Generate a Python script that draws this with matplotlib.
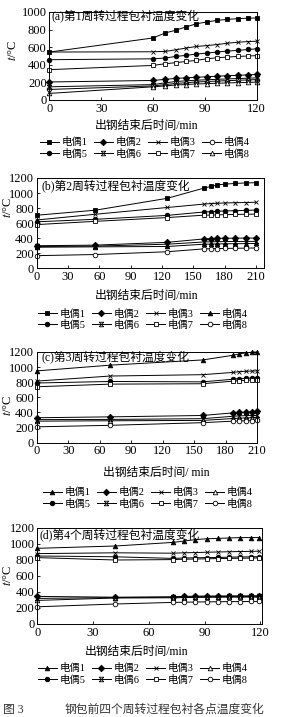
import matplotlib
matplotlib.use('Agg')
import matplotlib.pyplot as plt
from matplotlib.path import Path

plt.rcParams['font.family'] = ['Liberation Serif', 'Noto Sans CJK SC']
plt.rcParams['mathtext.fontset'] = 'stix'

# ---- data (temperature in degC, time in min) ----
time_a = [0, 60, 67, 73, 79, 85, 91, 97, 103, 109, 115, 120]
temp_a = [
    [545, 705, 762, 792, 830, 866, 886, 905, 916, 924, 930, 932],  # 1
    [205, 222, 235, 245, 252, 258, 264, 270, 276, 280, 286, 290],  # 2
    [545, 548, 552, 570, 590, 608, 618, 630, 645, 656, 664, 668],  # 3
    [120, 160, 175, 188, 196, 205, 210, 215, 220, 224, 228, 232],  # 4
    [458, 468, 477, 495, 507, 522, 533, 545, 556, 563, 574, 582],  # 5
    [150, 175, 195, 210, 218, 225, 230, 235, 240, 244, 248, 252],  # 6
    [345, 393, 412, 424, 438, 450, 468, 480, 488, 495, 500, 504],  # 7
    [75, 150, 160, 170, 176, 182, 186, 190, 194, 197, 200, 203],   # 8
]

time_b = [0, 56, 125, 160, 167, 173, 180, 190, 200, 210]
temp_b = [
    [705, 772, 930, 1065, 1088, 1108, 1118, 1128, 1134, 1138],
    [300, 308, 345, 390, 395, 398, 400, 400, 402, 402],
    [642, 718, 808, 853, 860, 864, 868, 872, 874, 878],
    [280, 285, 290, 320, 322, 324, 326, 327, 328, 330],
    [618, 651, 703, 748, 753, 758, 762, 766, 770, 774],
    [290, 295, 320, 350, 352, 354, 355, 356, 357, 358],
    [581, 624, 674, 706, 708, 710, 713, 716, 718, 720],
    [168, 183, 220, 258, 260, 262, 264, 266, 268, 270],
]

time_c = [0, 70, 158, 187, 193, 199, 205, 210]
temp_c = [
    [950, 1026, 1095, 1157, 1175, 1188, 1198, 1200],
    [330, 342, 360, 395, 400, 405, 410, 415],
    [815, 882, 900, 930, 940, 945, 948, 950],
    [285, 290, 295, 320, 325, 328, 330, 330],
    [790, 810, 805, 840, 848, 852, 856, 860],
    [305, 308, 318, 350, 355, 358, 360, 360],
    [740, 775, 780, 815, 820, 825, 830, 835],
    [210, 230, 265, 285, 288, 290, 292, 295],
]

time_d = [0, 42, 73, 79, 85, 91, 97, 103, 109, 115, 119]
temp_d = [
    [946, 975, 1020, 1037, 1055, 1065, 1070, 1075, 1080, 1080, 1080],
    [345, 335, 340, 345, 348, 350, 350, 352, 352, 352, 352],
    [880, 890, 885, 890, 893, 897, 900, 903, 906, 908, 910],
    [295, 325, 328, 330, 332, 334, 335, 336, 336, 337, 337],
    [850, 840, 820, 825, 828, 830, 832, 835, 838, 840, 842],
    [320, 330, 335, 338, 340, 342, 342, 344, 344, 345, 345],
    [830, 800, 805, 810, 812, 815, 818, 820, 822, 824, 826],
    [215, 250, 270, 272, 275, 277, 278, 280, 280, 282, 282],
]

labels = ['电偶%d' % i for i in range(1, 9)]
titles = ['(a)第1周转过程包衬温度变化', '(b)第2周转过程包衬温度变化',
          '(c)第3周转过程包衬温度变化', '(d)第4个周转过程包衬温度变化']
xlabels = ['出钢结束后时间/min', '出钢结束后时间/min',
           '出钢结束后时间/ min', '出钢结束后时间/min']

# x with bars top and bottom (thermocouple 6)
M, L = Path.MOVETO, Path.LINETO
star6 = Path([(-1, -1), (1, 1), (-1, 1), (1, -1), (-1, 1), (1, 1), (-1, -1), (1, -1)],
             [M, L, M, L, M, L, M, L])

# (marker, filled) per thermocouple for each panel
markers_a = [('s', 1), ('D', 1), ('x', 0), ('o', 0), ('o', 1), (star6, 0), ('s', 0), ('^', 0)]
markers_b = [('s', 1), ('D', 1), ('x', 0), ('^', 1), ('o', 1), (star6, 0), ('s', 0), ('o', 0)]
markers_c = [('^', 1), ('D', 1), ('x', 0), ('^', 0), ('o', 1), (star6, 0), ('s', 0), ('o', 0)]
markers_d = markers_c

W, H = 289, 717
fig = plt.figure(figsize=(W / 100, H / 100), dpi=100)


def fx(x):
    return x / W


def fy(y):
    return 1 - y / H


panels = [
    # data, markers, box (l, r, t, b) px, xlim, ylim, xtick max
    (time_a, temp_a, markers_a, (49.5, 256.7, 12, 100), 120, 1000, 120),
    (time_b, temp_b, markers_b, (36.7, 264, 178, 268.3), 217.7, 1200, 210),
    (time_c, temp_c, markers_c, (36.7, 257.3, 352, 442.7), 210, 1200, 210),
    (time_d, temp_d, markers_d, (37.3, 262.3, 528, 624), 121, 1200, 120),
]
# text positions in px
title_pos = [(51, 16), (41, 186), (41, 357), (39, 535)]
ylab_pos = [(13, 50), (8, 207), (8, 405), (8, 575)]
xlab_pos = [(147, 126), (147, 296), (156, 473), (137, 652)]
leg_pos = [(145, 148), (143, 319.5), (148, 498), (143, 674)]

for k, (t, temps, marks, box, xmax, ymax, xtmax) in enumerate(panels):
    l, r, tp, b = box
    ax = fig.add_axes([fx(l), fy(b), (r - l) / W, (b - tp) / H])
    lines = []
    for i in range(8):
        mk, filled = marks[i]
        ln, = ax.plot(t, temps[i], color='black', lw=0.7, marker=mk, ms=3.3,
                      mew=0.6, mfc='black' if filled else 'white',
                      mec='black', label=labels[i], clip_on=False)
        lines.append(ln)
    ax.set_xlim(0, xmax)
    ax.set_ylim(0, ymax)
    ax.set_xticks(range(0, xtmax + 1, 30))
    ax.set_yticks(range(0, ymax + 1, 200))
    ax.tick_params(direction='in', length=2, width=0.6, labelsize=9, pad=2)
    for sp in ax.spines.values():
        sp.set_linewidth(0.7)

    fig.text(fx(title_pos[k][0]), fy(title_pos[k][1]), titles[k],
             fontsize=8.5, va='center', ha='left')
    fig.text(fx(ylab_pos[k][0]), fy(ylab_pos[k][1]), r'$t$/°C',
             fontsize=9, rotation=90, va='center', ha='center')
    fig.text(fx(xlab_pos[k][0]), fy(xlab_pos[k][1]), xlabels[k],
             fontsize=8.5, va='center', ha='center')

    # legend fills column-wise, so reorder to get 1-4 on first row
    order = [0, 4, 1, 5, 2, 6, 3, 7]
    fig.legend([lines[i] for i in order], [labels[i] for i in order],
               loc='center', bbox_to_anchor=(fx(leg_pos[k][0]), fy(leg_pos[k][1])),
               ncol=4, frameon=False, fontsize=7.5, handlelength=1.8,
               handletextpad=0.3, columnspacing=0.6, labelspacing=0.1,
               borderpad=0, borderaxespad=0)

fig.text(fx(3), fy(710), '图 3', fontsize=8.5, va='center', ha='left', color='#333333')
fig.text(fx(65), fy(710), '钢包前四个周转过程包衬各点温度变化', fontsize=8.5,
         va='center', ha='left', color='#333333')

fig.savefig('out.png', dpi=100)
